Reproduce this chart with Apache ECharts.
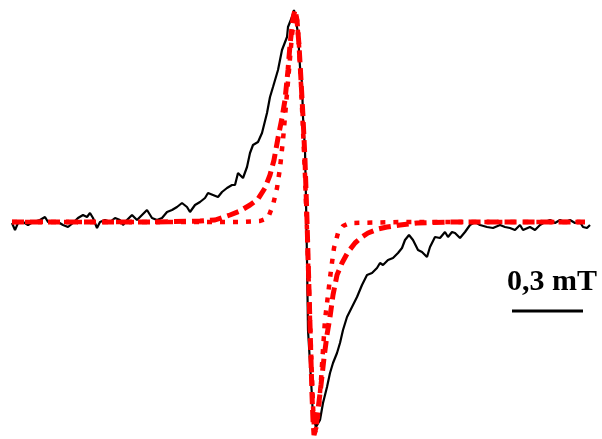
<!DOCTYPE html>
<html>
<head>
<meta charset="utf-8">
<script src="https://cdn.jsdelivr.net/npm/echarts@6/dist/echarts.min.js"></script>
<style>html,body{margin:0;padding:0;background:#fff;}#c{width:602px;height:439px;}</style>
</head>
<body>
<div id="c"></div>
<script>
// Field position (arbitrary channel units) and derivative amplitude (arbitrary units, 0 = baseline)
const blackField = [12,15,18,23,28,33,40,45,48,53,58,63,68,73,78,83,87,90,93,97,100,105,110,115,120,123,127,132,137,142,147,152,157,162,167,172,177,182,187,190,195,200,205,208,213,218,222,227,232,235,238,243,247,250,253,258,262,267,270,273,278,282,287,288,292,294,296,298,300,302,303,305,306,307,308,310,312,313,316,317,320,323,327,330,333,337,340,343,347,352,357,362,367,372,377,380,383,388,393,398,402,405,409,413,418,422,427,430,435,440,445,448,452,455,460,465,470,475,480,487,493,500,505,510,515,520,523,530,535,540,545,550,555,560,565,570,575,580,583,587,590];
const blackAmp = [-1,-8,-1,0,-3,0,2,5,0,-1,0,-3,-5,-1,4,7,5,9,4,-6,0,2,0,4,2,-3,2,7,2,7,12,4,2,4,10,12,15,19,15,10,17,20,24,29,27,25,30,34,37,37,49,44,55,69,77,80,89,109,125,135,152,172,185,195,205,212,214,189,155,139,105,72,22,-38,-108,-141,-175,-195,-205,-206,-198,-181,-165,-151,-141,-131,-121,-108,-95,-85,-75,-63,-53,-51,-46,-41,-43,-38,-36,-31,-26,-18,-13,-18,-28,-30,-35,-25,-15,-16,-10,-15,-10,-11,-16,-10,-3,0,-3,-5,-6,-3,-5,-6,-8,-3,-8,-5,-8,-3,0,2,-1,2,0,2,-1,0,-5,-6,-3];

const dashField = [12,100,150,200,215,230,240,250,258,265,270,274,278,282,285,288,290,293,295,297,299,301,303,305,307,309,311,312,313,314,316,318,321,324,327,330,333,337,342,348,355,362,368,378,387,400,417,450,585];
const dashAmp = [0,0,0,1,2,7,11,17,23,34,47,62,84,104,122,152,177,204,212,202,177,142,105,62,2,-68,-138,-173,-198,-213,-206,-188,-163,-136,-113,-95,-73,-53,-41,-30,-21,-15,-11,-7,-5,-3,-1,0,0];

const dotField = [12,100,200,240,260,268,273,277,280,283,286,289,292,295,297,299,301,303,305,307,309,311,313,314,315,317,319,321,323,325,328,331,334,338,343,350,400,585];
const dotAmp = [0,0,0,0,1,4,17,34,54,82,117,152,187,209,202,177,137,92,47,-8,-68,-128,-183,-206,-210,-203,-183,-158,-128,-98,-73,-48,-26,-11,-4,-1,0,0];

const scaleLabel = '0,3 mT';

const chart = echarts.init(document.getElementById('c'), null, {renderer: 'canvas'});
const zip = (xs, ys) => xs.map((x, i) => [x, ys[i]]);
chart.setOption({
  animation: false,
  backgroundColor: '#ffffff',
  grid: {left: 0, right: 0, top: 0, bottom: 0},
  xAxis: {type: 'value', min: 0, max: 602, show: false},
  yAxis: {type: 'value', min: -217, max: 222, show: false},
  series: [
    {type: 'line', data: zip(blackField, blackAmp), showSymbol: false, z: 1,
     lineStyle: {color: '#000000', width: 2.2}},
    {type: 'line', data: zip(dashField, dashAmp), showSymbol: false, z: 2,
     lineStyle: {color: '#ff0000', width: 5, type: [12, 6], cap: 'butt'}},
    {type: 'line', data: zip(dotField, dotAmp), showSymbol: false, z: 3,
     lineStyle: {color: '#ff0000', width: 4.5, type: [5, 8], cap: 'butt'}}
  ],
  graphic: [
    {type: 'text', left: 507, top: 267, z: 10,
     style: {text: scaleLabel, font: 'bold 30px "Liberation Serif", "Times New Roman", serif', fill: '#000'}},
    {type: 'line', z: 10, shape: {x1: 512, y1: 311, x2: 583, y2: 311},
     style: {stroke: '#000', lineWidth: 3}}
  ]
});
</script>
</body>
</html>
